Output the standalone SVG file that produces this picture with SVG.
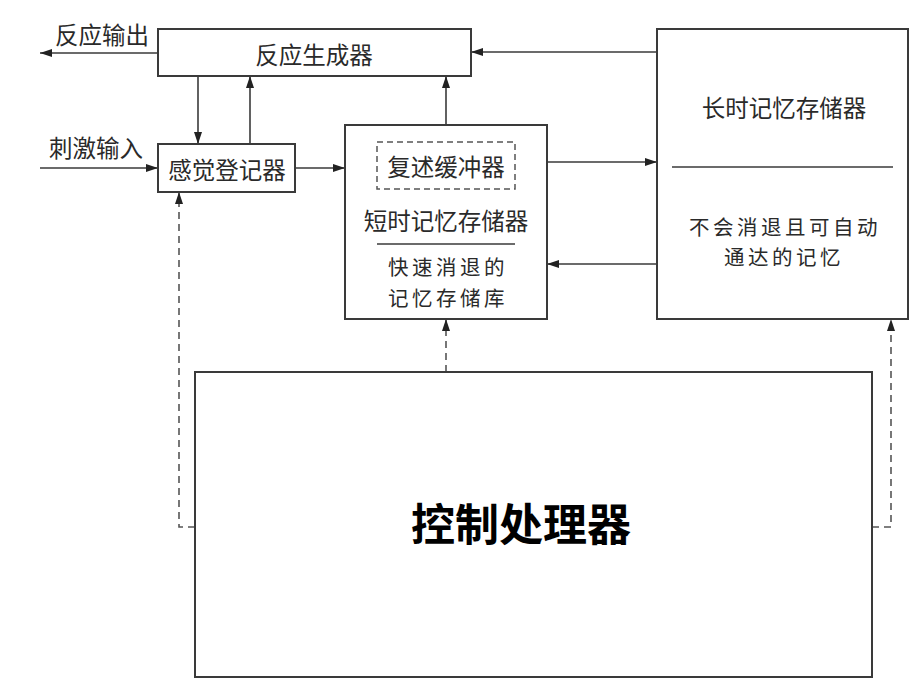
<svg xmlns="http://www.w3.org/2000/svg" width="924" height="696" viewBox="0 0 924 696">
<style>
.box{fill:#fff;stroke:#3a3a3a;stroke-width:2}
.ln{fill:none;stroke:#3a3a3a;stroke-width:1.6}
.dash{fill:none;stroke:#555;stroke-width:1.6;stroke-dasharray:7,5}
.t{font-family:"Noto Sans CJK SC","Noto Sans",sans-serif;font-size:23.5px;fill:#2a2a2a;text-anchor:middle;dominant-baseline:central}
.s{font-size:20.5px;letter-spacing:3.5px}
.big{font-size:44px;font-weight:bold;fill:#000}
</style>
<defs>
<marker id="ah" viewBox="0 0 12 8" refX="12" refY="4" markerWidth="12" markerHeight="8" markerUnits="userSpaceOnUse" orient="auto">
<path d="M0,0 L12,4 L0,8 z" fill="#222"/>
</marker>
</defs>
<rect width="924" height="696" fill="#fff"/>
<g id="connectors">
<line class="ln" x1="158" y1="53" x2="40" y2="53" marker-end="url(#ah)"/>
<line class="ln" x1="40" y1="168" x2="158" y2="168" marker-end="url(#ah)"/>
<line class="ln" x1="198" y1="76" x2="198" y2="144" marker-end="url(#ah)"/>
<line class="ln" x1="250" y1="144" x2="250" y2="76" marker-end="url(#ah)"/>
<line class="ln" x1="295" y1="168" x2="345" y2="168" marker-end="url(#ah)"/>
<line class="ln" x1="446" y1="125" x2="446" y2="76" marker-end="url(#ah)"/>
<line class="ln" x1="657" y1="52" x2="471" y2="52" marker-end="url(#ah)"/>
<line class="ln" x1="547" y1="162" x2="657" y2="162" marker-end="url(#ah)"/>
<line class="ln" x1="657" y1="264" x2="547" y2="264" marker-end="url(#ah)"/>
<polyline class="dash" points="195,527 179,527 179,192" marker-end="url(#ah)"/>
<line class="dash" x1="446" y1="372" x2="446" y2="319" marker-end="url(#ah)"/>
<polyline class="dash" points="872,527 891,527 891,319" marker-end="url(#ah)"/>
</g>
<g id="labels">
<text class="t" x="102" y="34">反应输出</text>
<text class="t" x="96" y="147">刺激输入</text>
</g>
<g id="response-generator">
<rect class="box" x="158" y="29" width="313" height="47"/>
<text class="t" x="314" y="54">反应生成器</text>
</g>
<g id="sensory-register">
<rect class="box" x="158" y="144" width="137" height="48"/>
<text class="t" x="227" y="169">感觉登记器</text>
</g>
<g id="short-term-memory">
<rect class="box" x="345" y="125" width="202" height="194"/>
<rect x="377" y="142" width="138" height="47" fill="none" stroke="#555" stroke-width="1.5" stroke-dasharray="6,4"/>
<text class="t" x="446" y="166">复述缓冲器</text>
<text class="t" x="446" y="220">短时记忆存储器</text>
<line class="ln" x1="377" y1="244" x2="515" y2="244"/>
<text class="t s" x="448" y="266">快速消退的</text>
<text class="t s" x="448" y="297">记忆存储库</text>
</g>
<g id="long-term-memory">
<rect class="box" x="657" y="29" width="251" height="290"/>
<text class="t" x="784" y="107">长时记忆存储器</text>
<line class="ln" x1="672" y1="167" x2="893" y2="167"/>
<text class="t s" x="785" y="226">不会消退且可自动</text>
<text class="t s" x="784" y="256">通达的记忆</text>
</g>
<g id="control-processor">
<rect class="box" x="195" y="372" width="677" height="305"/>
<text class="t big" x="521" y="522">控制处理器</text>
</g>
</svg>
